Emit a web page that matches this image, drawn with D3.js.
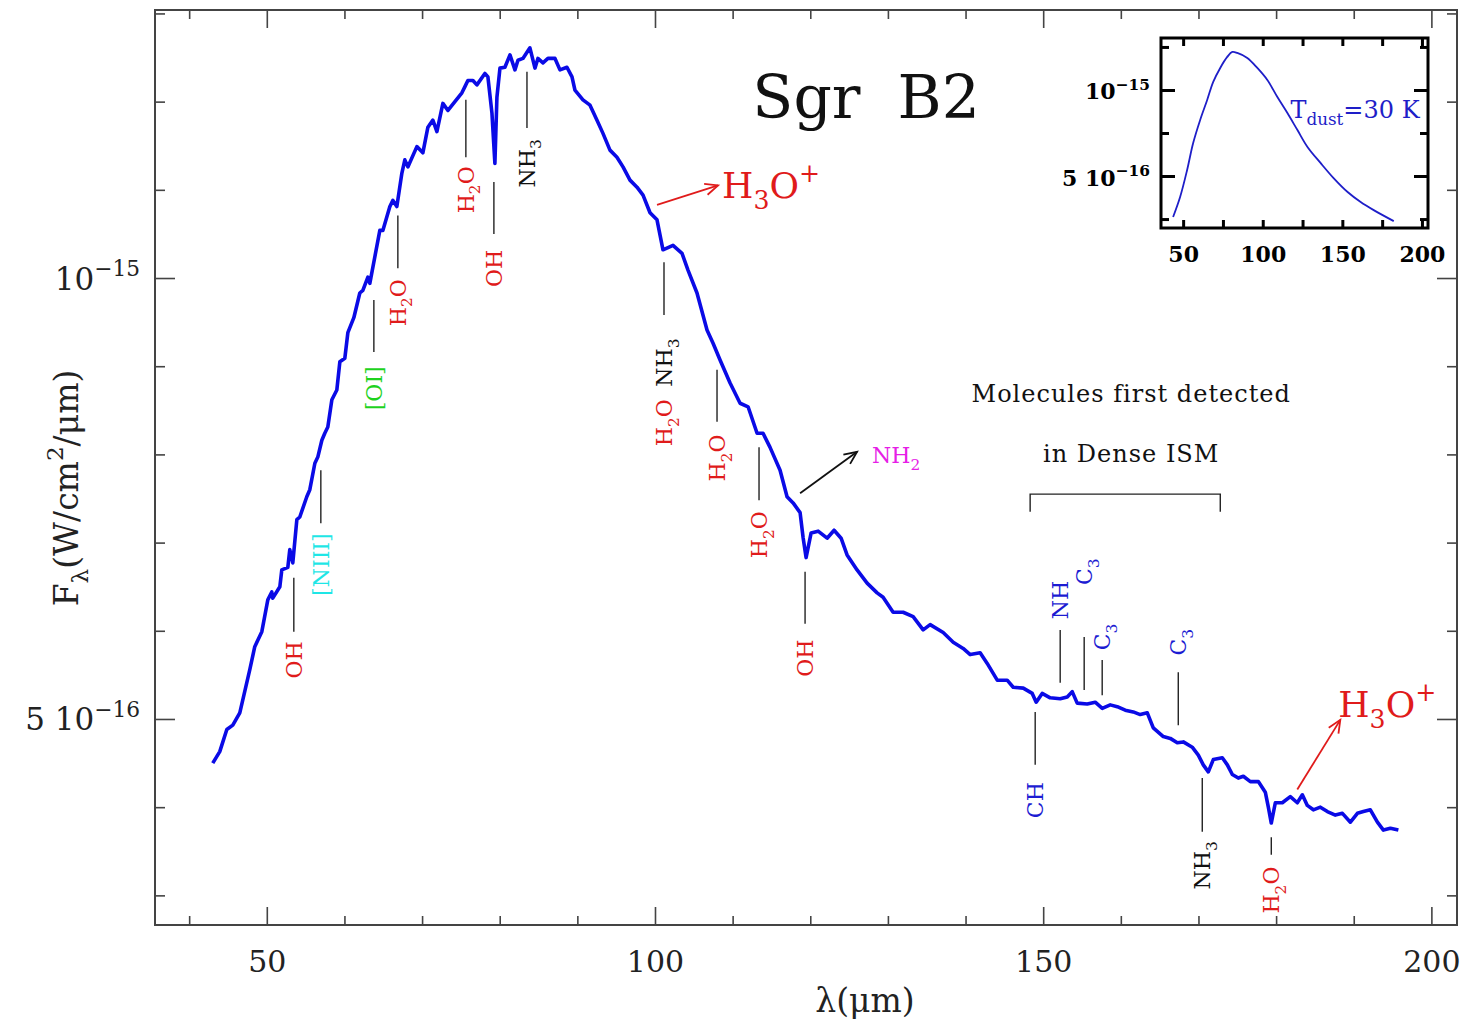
<!DOCTYPE html>
<html>
<head>
<meta charset="utf-8">
<script src="https://cdn.jsdelivr.net/npm/d3@7"></script>
<style>
  body { margin: 0; background: #fff; }
  svg { display: block; }
  text { font-family: "DejaVu Serif", serif; }
</style>
</head>
<body>
<div id="chart"></div>
<script>
//Spectrum of Sgr B2: wavelength in micron, flux in units of 1e-16 W/cm2/micron
const wavelength = [43.04, 43.94, 44.85, 45.62, 46.52, 47.81, 48.45, 49.36, 50.13, 50.64, 50.77, 51.68, 51.93, 52.71, 52.96, 53.35, 53.87, 54.25, 55.15, 55.54,
  56.19, 56.57, 57.09, 57.47, 57.86, 58.38, 59.02, 59.41, 60.05, 60.44, 61.21, 61.98, 62.37, 63.02, 63.27, 64.56, 64.95, 65.85, 66.24, 66.75,
  67.40, 67.78, 68.17, 69.33, 70.10, 70.75, 71.39, 71.91, 72.68, 73.33, 74.23, 75.13, 75.52, 75.90, 76.55, 77.06, 78.09, 78.48, 79.00, 79.38,
  79.64, 80.03, 80.67, 81.32, 81.96, 82.35, 82.99, 83.89, 84.54, 84.92, 85.57, 86.21, 87.12, 87.76, 88.66, 89.31, 89.69, 90.72, 91.63, 92.53,
  93.30, 94.20, 95.10, 95.88, 96.78, 97.68, 98.46, 99.36, 100.26, 101.03, 102.32, 103.48, 104.25, 105.41, 106.70, 107.48, 108.38, 109.67, 110.96, 111.99,
  113.15, 113.92, 114.82, 116.11, 117.01, 117.79, 118.69, 119.07, 119.46, 120.11, 121.01, 122.17, 123.07, 123.97, 124.74, 126.03, 127.32, 128.61, 129.38, 130.67,
  131.96, 133.25, 134.54, 135.44, 137.12, 138.41, 139.69, 140.60, 141.88, 142.79, 144.08, 145.36, 146.14, 147.43, 148.59, 149.10, 149.87, 150.90, 152.19, 153.10,
  153.74, 154.38, 155.67, 156.70, 157.61, 158.64, 159.54, 160.57, 161.60, 162.50, 163.41, 164.18, 165.47, 166.37, 167.27, 168.05, 169.20, 169.98, 170.62, 171.27,
  171.91, 173.07, 173.72, 174.36, 175.13, 175.78, 176.68, 177.71, 178.61, 179.00, 179.38, 179.90, 180.80, 181.83, 182.73, 183.38, 184.02, 184.80, 185.70, 186.60,
  187.63, 188.54, 189.57, 190.47, 191.24, 192.14, 193.05, 193.82, 194.72, 195.75];
const flux = [4.50, 4.63, 4.88, 4.93, 5.07, 5.56, 5.82, 5.99, 6.35, 6.44, 6.37, 6.50, 6.69, 6.72, 6.92, 6.77, 7.26, 7.29, 7.52, 7.60,
  7.90, 7.97, 8.16, 8.24, 8.31, 8.62, 8.73, 9.05, 9.09, 9.38, 9.55, 9.83, 9.86, 10.01, 9.94, 10.54, 10.54, 10.81, 10.88, 10.81,
  11.19, 11.34, 11.26, 11.49, 11.42, 11.71, 11.79, 11.66, 11.98, 11.90, 12.00, 12.10, 12.17, 12.24, 12.24, 12.19, 12.32, 12.28, 11.87, 11.30,
  12.05, 12.38, 12.39, 12.53, 12.36, 12.47, 12.49, 12.61, 12.38, 12.49, 12.44, 12.49, 12.49, 12.36, 12.39, 12.28, 12.13, 12.02, 11.96, 11.79,
  11.64, 11.45, 11.37, 11.26, 11.11, 11.03, 10.94, 10.74, 10.66, 10.32, 10.37, 10.28, 10.09, 9.83, 9.41, 9.26, 9.07, 8.81, 8.58, 8.54,
  8.24, 8.24, 8.08, 7.82, 7.52, 7.45, 7.34, 7.06, 6.83, 7.11, 7.13, 7.05, 7.14, 7.05, 6.86, 6.69, 6.54, 6.43, 6.38, 6.21,
  6.21, 6.16, 6.01, 6.07, 5.98, 5.87, 5.80, 5.73, 5.75, 5.63, 5.44, 5.44, 5.36, 5.35, 5.29, 5.19, 5.29, 5.24, 5.23, 5.25,
  5.31, 5.18, 5.17, 5.19, 5.12, 5.16, 5.14, 5.10, 5.08, 5.05, 5.07, 4.90, 4.80, 4.78, 4.73, 4.74, 4.68, 4.59, 4.48, 4.40,
  4.54, 4.56, 4.48, 4.37, 4.33, 4.35, 4.29, 4.29, 4.17, 4.00, 3.82, 4.05, 4.05, 4.12, 4.05, 4.14, 4.02, 3.97, 4.00, 3.95,
  3.91, 3.93, 3.83, 3.93, 3.95, 3.97, 3.83, 3.74, 3.76, 3.74];

//Dust model shown in the inset (T = 30 K)
const dustWave = [43.7, 48.1, 52.5, 56.3, 60.7, 65.1, 68.9, 73.3, 77.7, 80.9, 84.0, 90.3, 96.6, 102.9, 109.2, 115.5, 121.8, 128.1, 136.3, 144.5, 153.3, 161.5, 169.7, 182.3];
const dustFlux = [2.62, 3.78, 5.35, 6.92, 8.26, 9.42, 10.47, 11.28, 11.92, 12.21, 12.15, 11.86, 11.28, 10.58, 9.59, 8.66, 7.67, 6.69, 5.76, 4.88, 4.07, 3.49, 3.02, 2.38];

//Ticks
const xMajorTicks = [50, 100, 150, 200];
const xMinorTicks = [40, 60, 70, 80, 90, 110, 120, 130, 140, 160, 170, 180, 190];
const yMajorTicks = [5, 10];
const yMinorTicks = [3, 4, 6, 7, 8, 9, 11, 12, 13];
const yTickLabels = ["5 10^{\u221216}", "10^{\u221215}"];
const insetXTicks = [50, 75, 100, 125, 150, 175, 200];
const insetXLabels = [50, 100, 150, 200];
const insetYMajor = [5, 10];
const insetYMinor = [2.5, 7.5, 12.5];
const insetYLabels = ["5 10^{\u221216}", "10^{\u221215}"];

//Line identifications: label, species group, wavelength, tick from/to flux, text centre flux
const lineIds = [
  ["OH", "red", 53.48, 6.60, 5.99, 5.67],
  ["[NIII]", "cyan", 56.96, 7.82, 7.22, 6.75],
  ["[OI]", "green", 63.79, 9.75, 9.16, 8.75],
  ["H_{2}O", "red", 66.88, 10.71, 10.11, 9.72],
  ["H_{2}O", "red", 75.64, 12.02, 11.37, 11.00],
  ["OH", "red", 79.25, 11.09, 10.50, 10.11],
  ["NH_{3}", "black", 83.51, 12.34, 11.70, 11.30],
  ["NH_{3}", "black", 101.16, 10.18, 9.58, 9.04],
  ["H_{2}O", "red", 101.16, null, null, 8.36],
  ["H_{2}O", "red", 107.99, 8.96, 8.37, 7.96],
  ["H_{2}O", "red", 113.40, 8.08, 7.48, 7.09],
  ["OH", "red", 119.33, 6.67, 6.08, 5.69],
  ["CH", "blue", 148.97, 5.08, 4.48, 4.08],
  ["NH", "blue", 152.19, 5.41, 6.01, 6.35],
  ["C_{3}", "blue", 155.28, 5.33, 5.93, 6.67],
  ["C_{3}", "blue", 157.60, 5.27, 5.67, 5.93],
  ["C_{3}", "blue", 167.40, 4.93, 5.53, 5.87],
  ["NH_{3}", "black", 170.49, 4.33, 3.72, 3.34],
  ["H_{2}O", "red", 179.38, 3.66, 3.46, 3.06]
];

//Arrows: from wavelength, from flux, to wavelength, to flux, group
const arrows = [
  [100.26, 10.83, 108.12, 11.05, "red"],
  [118.69, 7.56, 126.03, 8.03, "black"],
  [182.73, 4.20, 188.27, 4.99, "red"]
];

//Free text: text, group, wavelength, flux (baseline), size, anchor
const notes = [
  ["H_{3}O^{+}", "red", 108.63, 10.91, 36, "start"],
  ["NH_{2}", "magenta", 127.96, 7.90, 22, "start"],
  ["H_{3}O^{+}", "red", 188.0, 5.02, 36, "start"],
  ["Molecules first detected", "black", 161.34, 8.59, 24, "middle"],
  ["in Dense ISM", "black", 161.34, 7.91, 24, "middle"],
  ["Sgr B2", "black", 127.19, 11.81, 60, "middle"]
];

//Bracket over the new molecules
const bracketWave = [148.32, 172.81];
const bracketFlux = [7.35, 7.55];

const colours = { red: "#e01b1b", cyan: "#1ee6e6", green: "#1ed21e", blue: "#1c1cd2", black: "#111", magenta: "#e61ee6" };

const width = 1464;
const height = 1022;

const svg = d3.select("#chart").append("svg").attr("width", width).attr("height", height);

//Scales
const x = d3.scaleLinear().domain([35.6, 203.3]).range([155, 1457]);
const y = d3.scaleLinear().domain([2.664, 13.039]).range([925, 10]);

//Write text with _{sub} and ^{sup} parts, start = vertical shift of the first part
function rich(sel, str, fs, start = 0) {
  const parts = str.split(/(_\{[^}]*\}|\^\{[^}]*\})/).filter(s => s !== "");
  let cur = -start;
  parts.forEach(p => {
    let off = 0, t = p, size = fs;
    if (p[0] === "_") { off = 0.3 * fs; t = p.slice(2, -1); size = fs * 0.7; }
    else if (p[0] === "^") { off = -0.45 * fs; t = p.slice(2, -1); size = fs * 0.7; }
    sel.append("tspan").attr("dy", off - cur).style("font-size", size + "px").text(t);
    cur = off;
  });
  return sel;
}

//Axes with inward ticks
function styleAxis(g) {
  g.select(".domain").remove();
  g.selectAll(".tick line").attr("stroke", "#444").attr("stroke-width", 1.6);
}
const axes = [
  [d3.axisBottom(x), `translate(0,925)`, xMinorTicks, 9], [d3.axisBottom(x), `translate(0,925)`, xMajorTicks, 18],
  [d3.axisTop(x), `translate(0,10)`, xMinorTicks, 9], [d3.axisTop(x), `translate(0,10)`, xMajorTicks, 18],
  [d3.axisLeft(y), `translate(155,0)`, yMinorTicks, 10], [d3.axisLeft(y), `translate(155,0)`, yMajorTicks, 20],
  [d3.axisRight(y), `translate(1457,0)`, yMinorTicks, 10], [d3.axisRight(y), `translate(1457,0)`, yMajorTicks, 20]
];
axes.forEach(([ax, tr, vals, len]) => {
  svg.append("g").attr("transform", tr).call(ax.tickValues(vals).tickSize(-len).tickFormat("")).call(styleAxis);
});

//Tick labels
svg.append("g").attr("transform", "translate(0,925)")
  .call(d3.axisBottom(x).tickValues(xMajorTicks).tickSize(0).tickPadding(26))
  .attr("font-family", "DejaVu Serif").attr("font-size", 30)
  .call(g => g.select(".domain").remove())
  .call(g => g.selectAll(".tick text").attr("fill", "#222"));

svg.append("g").attr("transform", "translate(155,0)")
  .call(d3.axisLeft(y).tickValues(yMajorTicks).tickSize(0).tickPadding(15).tickFormat((d, i) => yTickLabels[i]))
  .attr("font-family", "DejaVu Serif").attr("font-size", 31)
  .call(g => g.select(".domain").remove())
  .call(g => g.selectAll(".tick text").attr("fill", "#222").attr("dy", null).each(function() {
    const t = d3.select(this); const s = t.text(); t.text(""); rich(t, s, 31, 11);
  }));

//Frame
svg.append("rect").attr("x", 155).attr("y", 10).attr("width", 1302).attr("height", 915)
  .attr("fill", "none").attr("stroke", "#444").attr("stroke-width", 2);

//Axis titles
rich(svg.append("text").attr("x", 865).attr("y", 1012).attr("text-anchor", "middle").attr("fill", "#222"), "\u03bb(\u03bcm)", 33);
rich(svg.append("text").attr("transform", "translate(78,488) rotate(-90)").attr("text-anchor", "middle").attr("fill", "#222"),
  "F_{\u03bb}(W/cm^{2}/\u03bcm)", 33);

//Spectrum
const line = d3.line().x((d, i) => x(wavelength[i])).y(d => y(d));
svg.append("path").datum(flux).attr("d", line).attr("fill", "none")
  .attr("stroke", "#0a0ae6").attr("stroke-width", 3.6).attr("stroke-linejoin", "round");

//Line identifications
lineIds.forEach(([txt, kind, lam, f1, f2, ft]) => {
  if (f1 !== null) {
    svg.append("line").attr("x1", x(lam)).attr("x2", x(lam)).attr("y1", y(f1)).attr("y2", y(f2))
      .attr("stroke", "#222").attr("stroke-width", 1.4);
  }
  const t = svg.append("g").attr("transform", `translate(${x(lam)},${y(ft)}) rotate(-90)`)
    .append("text").attr("text-anchor", "middle").attr("y", 22 * 0.36).attr("fill", colours[kind]);
  rich(t, txt, 22);
});

//Arrows
arrows.forEach(([l1, f1, l2, f2, kind]) => {
  const x1 = x(l1), y1 = y(f1), x2 = x(l2), y2 = y(f2);
  const a = Math.atan2(y2 - y1, x2 - x1);
  const c = colours[kind];
  svg.append("line").attr("x1", x1).attr("y1", y1).attr("x2", x2).attr("y2", y2).attr("stroke", c).attr("stroke-width", 1.8);
  const h = 14, s = 0.42;
  svg.append("path")
    .attr("d", `M${x2 - h * Math.cos(a - s)},${y2 - h * Math.sin(a - s)}L${x2},${y2}L${x2 - h * Math.cos(a + s)},${y2 - h * Math.sin(a + s)}`)
    .attr("fill", "none").attr("stroke", c).attr("stroke-width", 1.8);
});

//Notes
notes.forEach(([txt, kind, lam, f, fs, anchor]) => {
  const t = svg.append("text").attr("x", x(lam)).attr("y", y(f)).attr("text-anchor", anchor).attr("fill", colours[kind]);
  if (fs > 50) t.attr("word-spacing", 18);
  if (fs === 24) t.attr("letter-spacing", 1);
  rich(t, txt, fs);
});

//Bracket
svg.append("path")
  .attr("d", `M${x(bracketWave[0])},${y(bracketFlux[0])}V${y(bracketFlux[1])}H${x(bracketWave[1])}V${y(bracketFlux[0])}`)
  .attr("fill", "none").attr("stroke", "#222").attr("stroke-width", 1.4);

//Inset
const xi = d3.scaleLinear().domain([36.1, 203.8]).range([1161, 1428]);
const yi = d3.scaleLinear().domain([1.98, 13.02]).range([228, 38]);
const inset = svg.append("g");
inset.append("rect").attr("x", 1161).attr("y", 38).attr("width", 267).attr("height", 190).attr("fill", "#fff");

function styleInset(g) {
  g.select(".domain").remove();
  g.selectAll(".tick line").attr("stroke", "#000").attr("stroke-width", 3);
}
const insetAxes = [
  [d3.axisBottom(xi), "translate(0,228)", insetXTicks, 8], [d3.axisTop(xi), "translate(0,38)", insetXTicks, 8],
  [d3.axisLeft(yi), "translate(1161,0)", insetYMinor, 8], [d3.axisLeft(yi), "translate(1161,0)", insetYMajor, 14],
  [d3.axisRight(yi), "translate(1428,0)", insetYMinor, 8], [d3.axisRight(yi), "translate(1428,0)", insetYMajor, 14]
];
insetAxes.forEach(([ax, tr, vals, len]) => {
  inset.append("g").attr("transform", tr).call(ax.tickValues(vals).tickSize(-len).tickFormat("")).call(styleInset);
});
inset.append("g").attr("transform", "translate(0,228)")
  .call(d3.axisBottom(xi).tickValues(insetXLabels).tickSize(0).tickPadding(18))
  .attr("font-family", "DejaVu Sans").attr("font-size", 22).attr("font-weight", "bold")
  .call(g => g.select(".domain").remove());
inset.append("g").attr("transform", "translate(1161,0)")
  .call(d3.axisLeft(yi).tickValues(insetYMajor).tickSize(0).tickPadding(11).tickFormat((d, i) => insetYLabels[i]))
  .attr("font-family", "DejaVu Sans").attr("font-size", 22).attr("font-weight", "bold")
  .call(g => g.select(".domain").remove())
  .call(g => g.selectAll(".tick text").attr("dy", null).each(function() {
    const t = d3.select(this); const s = t.text(); t.text(""); rich(t, s, 22, 9);
  }));
inset.append("rect").attr("x", 1161).attr("y", 38).attr("width", 267).attr("height", 190)
  .attr("fill", "none").attr("stroke", "#000").attr("stroke-width", 3);

const dustLine = d3.line().x((d, i) => xi(dustWave[i])).y(d => yi(d)).curve(d3.curveCatmullRom.alpha(0.5));
inset.append("path").datum(dustFlux).attr("d", dustLine).attr("fill", "none").attr("stroke", "#1e1ec8").attr("stroke-width", 1.8);
rich(inset.append("text").attr("x", xi(117.4)).attr("y", yi(8.37)).attr("fill", "#1e1ec8"), "T_{dust}=30 K", 24);
</script>
</body>
</html>
